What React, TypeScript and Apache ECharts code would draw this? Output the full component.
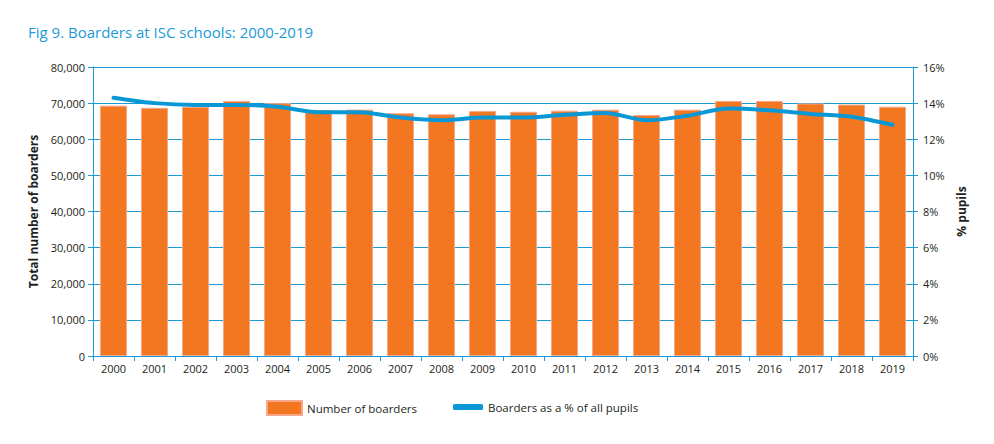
import React, { useEffect, useRef } from "react";
import * as echarts from "echarts";

const years = ["2000","2001","2002","2003","2004","2005","2006","2007","2008","2009","2010","2011","2012","2013","2014","2015","2016","2017","2018","2019"];
const boarders = [69300,68700,69000,70600,70000,68100,68200,67200,66900,67800,67600,67900,68200,66700,68200,70600,70600,69900,69600,69000];
const pctPupils = [14.3,14.0,13.9,13.9,13.8,13.5,13.5,13.2,13.05,13.2,13.2,13.35,13.45,13.05,13.3,13.7,13.6,13.4,13.25,12.8];
const leftTicks = [0,10000,20000,30000,40000,50000,60000,70000,80000];

const BLUE = "#1b9ad6";
const LINE_BLUE = "#0a97d6";
const ORANGE = "#f37721";
const TEXT = "#231f20";
const FONT = "'Open Sans', 'Noto Sans', sans-serif";

export default function App() {
  const ref = useRef<HTMLDivElement>(null);
  useEffect(() => {
    if (!ref.current) return;
    const chart = echarts.init(ref.current, null, { renderer: "svg" });
    chart.setOption({
      animation: false,
      textStyle: { fontFamily: FONT },
      title: {
        text: "Fig 9. Boarders at ISC schools: 2000-2019",
        left: 23,
        top: 19,
        textStyle: { color: BLUE, fontSize: 15, fontWeight: "normal", fontFamily: FONT },
      },
      legend: [
        {
          data: ["Number of boarders"],
          left: 261,
          top: 395,
          itemWidth: 35,
          itemHeight: 14,
          itemGap: 4,
          icon: "rect",
          textStyle: { color: TEXT, fontSize: 11.5, fontFamily: FONT },
        },
        {
          data: ["Boarders as a % of all pupils"],
          left: 448,
          top: 396,
          itemWidth: 30,
          itemHeight: 6,
          icon: "roundRect",
          textStyle: { color: TEXT, fontSize: 11.5, fontFamily: FONT },
        },
      ],
      grid: { left: 93, right: 81, top: 67, bottom: 88, containLabel: false },
      xAxis: {
        type: "category",
        data: years,
        boundaryGap: true,
        axisLine: { lineStyle: { color: BLUE, width: 1 } },
        axisTick: { show: true, alignWithLabel: false, length: 5, lineStyle: { color: BLUE } },
        axisLabel: { color: TEXT, fontSize: 11, margin: 7, fontFamily: FONT },
      },
      yAxis: [
        {
          type: "value",
          min: 0,
          max: 80000,
          interval: 10000,
          name: "Total number of boarders",
          nameLocation: "middle",
          nameGap: 53,
          nameTextStyle: { color: TEXT, fontSize: 12, fontWeight: "bold", fontFamily: FONT },
          axisLine: { show: true, lineStyle: { color: BLUE, width: 1 } },
          axisTick: { show: true, length: 5, lineStyle: { color: BLUE } },
          axisLabel: {
            color: TEXT,
            fontSize: 11,
            margin: 8,
            fontFamily: FONT,
            formatter: (v: number) => (leftTicks.includes(v) ? v.toLocaleString("en-US") : ""),
          },
          splitLine: { show: true, lineStyle: { color: BLUE, width: 1 } },
        },
        {
          type: "value",
          min: 0,
          max: 16,
          interval: 2,
          position: "right",
          name: "% pupils",
          nameLocation: "middle",
          nameGap: 39,
          nameTextStyle: { color: TEXT, fontSize: 12, fontWeight: "bold", fontFamily: FONT },
          axisLine: { show: true, lineStyle: { color: BLUE, width: 1 } },
          axisTick: { show: true, length: 5, lineStyle: { color: BLUE } },
          axisLabel: { color: TEXT, fontSize: 11, margin: 10, fontFamily: FONT, formatter: "{value}%" },
          splitLine: { show: false },
        },
      ],
      series: [
        {
          name: "Number of boarders",
          type: "bar",
          data: boarders,
          barWidth: "66%",
          itemStyle: { color: ORANGE, borderColor: "#f5a88a", borderWidth: 1 },
          z: 2,
        },
        {
          name: "Boarders as a % of all pupils",
          type: "line",
          yAxisIndex: 1,
          data: pctPupils,
          smooth: 0.3,
          symbol: "none",
          lineStyle: { color: LINE_BLUE, width: 4, cap: "round" },
          itemStyle: { color: LINE_BLUE },
          z: 3,
        },
      ],
    });
    return () => chart.dispose();
  }, []);
  return <div ref={ref} style={{ position: "absolute", left: 0, top: 0, width: 994, height: 444 }} />;
}
